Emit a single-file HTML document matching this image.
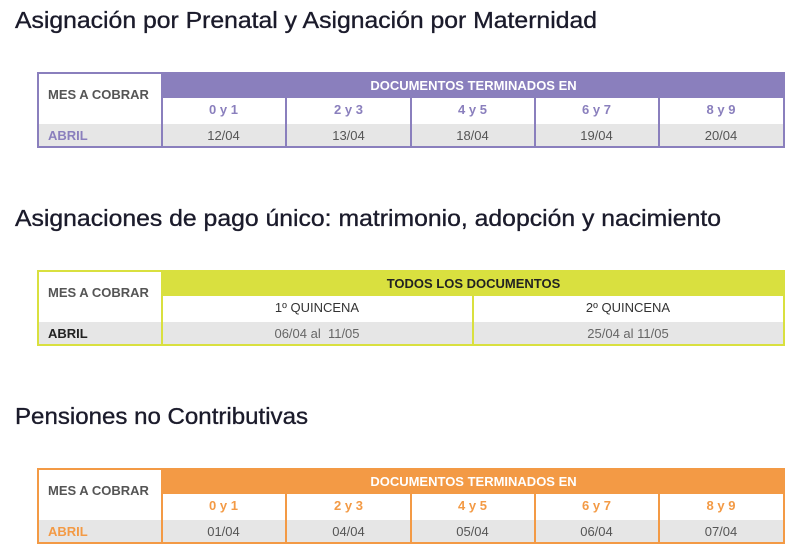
<!DOCTYPE html>
<html><head><meta charset="utf-8"><style>
body{margin:0;width:801px;height:555px;background:#fff;position:relative;overflow:hidden;font-family:"Liberation Sans",sans-serif}
.c{position:absolute;box-sizing:border-box;display:flex;align-items:center;justify-content:center;font-size:13px;font-weight:bold}
.m{align-items:flex-start;padding-top:13px}
.h{padding-bottom:3px}
svg{position:absolute;left:0;top:0}
</style></head><body>
<svg width="801" height="555">
<g font-family="Liberation Sans, sans-serif" font-size="23" fill="#1b1b2b" stroke="#1b1b2b" stroke-width="0.35">
<text x="15" y="28" textLength="582" lengthAdjust="spacingAndGlyphs">Asignación por Prenatal y Asignación por Maternidad</text>
<text x="15" y="226" textLength="706" lengthAdjust="spacingAndGlyphs">Asignaciones de pago único: matrimonio, adopción y nacimiento</text>
<text x="15" y="424" textLength="293" lengthAdjust="spacingAndGlyphs">Pensiones no Contributivas</text>
</g>
</svg>

<!-- Table 1 -->
<div class="c" style="left:37px;top:72px;width:748px;height:76px;border:2px solid #8a7fbd"></div>
<div class="c" style="left:162px;top:72px;width:623px;height:26px;background:#8a7fbd;color:#fff">DOCUMENTOS TERMINADOS EN</div>
<div class="c" style="left:39px;top:124px;width:744px;height:22px;background:#e6e6e6"></div>
<div class="c m" style="left:39px;top:74px;width:123px;height:50px;color:#555;justify-content:flex-start;padding-left:9px">MES A COBRAR</div>
<div class="c" style="left:39px;top:124px;width:123px;height:22px;color:#8a7fbd;justify-content:flex-start;padding-left:9px">ABRIL</div>
<div class="c" style="left:161px;top:72px;width:2px;height:76px;background:#8a7fbd"></div>
<div class="c h" style="left:162px;top:98px;width:125px;height:26px;color:#8a7fbd;border-right:2px solid #8a7fbd">0 y 1</div>
<div class="c h" style="left:287px;top:98px;width:125px;height:26px;color:#8a7fbd;border-right:2px solid #8a7fbd">2 y 3</div>
<div class="c h" style="left:411px;top:98px;width:125px;height:26px;color:#8a7fbd;border-right:2px solid #8a7fbd">4 y 5</div>
<div class="c h" style="left:535px;top:98px;width:125px;height:26px;color:#8a7fbd;border-right:2px solid #8a7fbd">6 y 7</div>
<div class="c h" style="left:659px;top:98px;width:124px;height:26px;color:#8a7fbd">8 y 9</div>
<div class="c" style="left:162px;top:124px;width:125px;height:22px;color:#555;font-weight:normal;border-right:2px solid #8a7fbd">12/04</div>
<div class="c" style="left:287px;top:124px;width:125px;height:22px;color:#555;font-weight:normal;border-right:2px solid #8a7fbd">13/04</div>
<div class="c" style="left:411px;top:124px;width:125px;height:22px;color:#555;font-weight:normal;border-right:2px solid #8a7fbd">18/04</div>
<div class="c" style="left:535px;top:124px;width:125px;height:22px;color:#555;font-weight:normal;border-right:2px solid #8a7fbd">19/04</div>
<div class="c" style="left:659px;top:124px;width:124px;height:22px;color:#555;font-weight:normal">20/04</div>

<!-- Table 2 -->
<div class="c" style="left:37px;top:270px;width:748px;height:76px;border:2px solid #d9e03f"></div>
<div class="c" style="left:162px;top:270px;width:623px;height:26px;background:#d9e03f;color:#222">TODOS LOS DOCUMENTOS</div>
<div class="c" style="left:39px;top:322px;width:744px;height:22px;background:#e6e6e6"></div>
<div class="c m" style="left:39px;top:272px;width:123px;height:50px;color:#555;justify-content:flex-start;padding-left:9px">MES A COBRAR</div>
<div class="c" style="left:39px;top:322px;width:123px;height:22px;color:#222;justify-content:flex-start;padding-left:9px">ABRIL</div>
<div class="c" style="left:161px;top:270px;width:2px;height:76px;background:#d9e03f"></div>
<div class="c h" style="left:162px;top:296px;width:312px;height:26px;color:#333;font-weight:normal;border-right:2px solid #d9e03f">1º QUINCENA</div>
<div class="c h" style="left:473px;top:296px;width:310px;height:26px;color:#333;font-weight:normal">2º QUINCENA</div>
<div class="c" style="left:162px;top:322px;width:312px;height:22px;color:#666;font-weight:normal;border-right:2px solid #d9e03f">06/04 al&nbsp; 11/05</div>
<div class="c" style="left:473px;top:322px;width:310px;height:22px;color:#666;font-weight:normal">25/04 al 11/05</div>

<!-- Table 3 -->
<div class="c" style="left:37px;top:468px;width:748px;height:76px;border:2px solid #f39a45"></div>
<div class="c" style="left:162px;top:468px;width:623px;height:26px;background:#f39a45;color:#fff">DOCUMENTOS TERMINADOS EN</div>
<div class="c" style="left:39px;top:520px;width:744px;height:22px;background:#e6e6e6"></div>
<div class="c m" style="left:39px;top:470px;width:123px;height:50px;color:#555;justify-content:flex-start;padding-left:9px">MES A COBRAR</div>
<div class="c" style="left:39px;top:520px;width:123px;height:22px;color:#f39a45;justify-content:flex-start;padding-left:9px">ABRIL</div>
<div class="c" style="left:161px;top:468px;width:2px;height:76px;background:#f39a45"></div>
<div class="c h" style="left:162px;top:494px;width:125px;height:26px;color:#f39a45;border-right:2px solid #f39a45">0 y 1</div>
<div class="c h" style="left:287px;top:494px;width:125px;height:26px;color:#f39a45;border-right:2px solid #f39a45">2 y 3</div>
<div class="c h" style="left:411px;top:494px;width:125px;height:26px;color:#f39a45;border-right:2px solid #f39a45">4 y 5</div>
<div class="c h" style="left:535px;top:494px;width:125px;height:26px;color:#f39a45;border-right:2px solid #f39a45">6 y 7</div>
<div class="c h" style="left:659px;top:494px;width:124px;height:26px;color:#f39a45">8 y 9</div>
<div class="c" style="left:162px;top:520px;width:125px;height:22px;color:#555;font-weight:normal;border-right:2px solid #f39a45">01/04</div>
<div class="c" style="left:287px;top:520px;width:125px;height:22px;color:#555;font-weight:normal;border-right:2px solid #f39a45">04/04</div>
<div class="c" style="left:411px;top:520px;width:125px;height:22px;color:#555;font-weight:normal;border-right:2px solid #f39a45">05/04</div>
<div class="c" style="left:535px;top:520px;width:125px;height:22px;color:#555;font-weight:normal;border-right:2px solid #f39a45">06/04</div>
<div class="c" style="left:659px;top:520px;width:124px;height:22px;color:#555;font-weight:normal">07/04</div>
</body></html>
